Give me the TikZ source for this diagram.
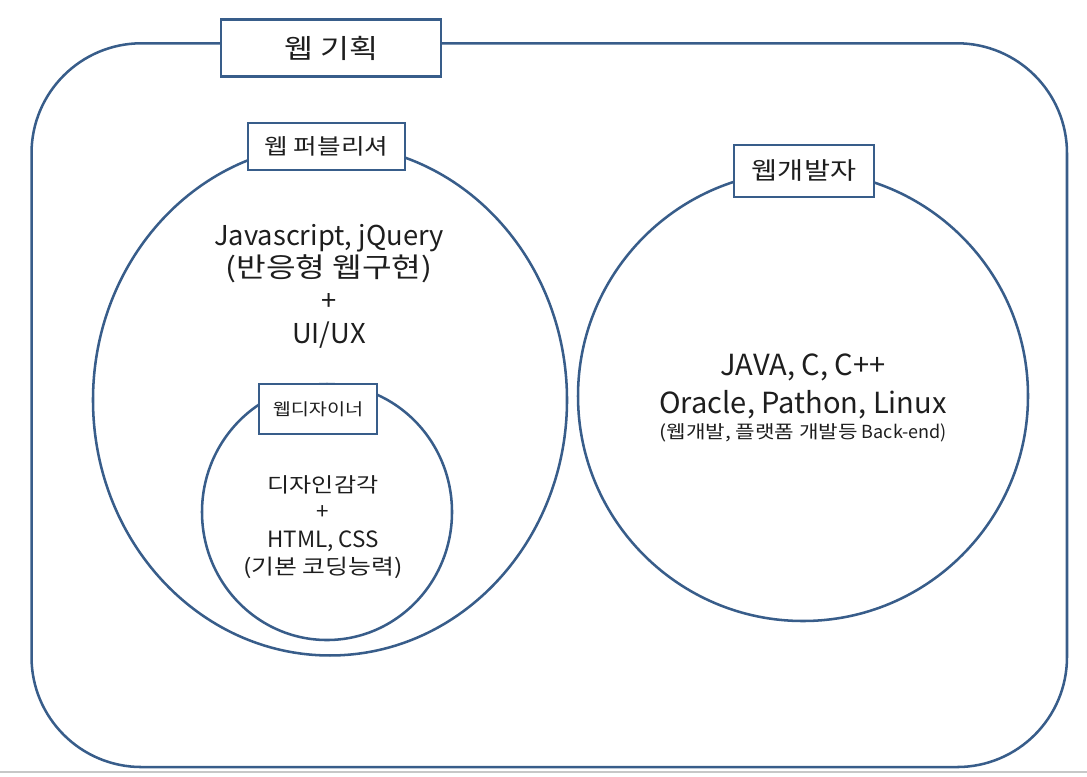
\documentclass[tikz,border=0pt]{standalone}
\usepackage{fontspec}
\setmainfont{Noto Sans CJK KR}
\newfontfamily\kr{Noto Sans CJK KR}[FakeStretch=1.18]
\usetikzlibrary{shapes.geometric}

\definecolor{frameblue}{RGB}{56,93,138}
\definecolor{textgray}{RGB}{30,30,30}

\begin{document}
\begin{tikzpicture}[x=0.75pt, y=-0.75pt,
    area/.style ={draw=frameblue, line width=1.9pt, inner sep=0pt},
    role/.style ={rectangle, draw=frameblue, line width=1.9pt, fill=white, inner sep=0pt, text=textgray},
    skill/.style ={align=center, text=textgray, inner sep=0pt}]
   \useasboundingbox (0,0) rectangle (1087,776);
   \draw[black!22, line width=1.5pt] (0,772) -- (1087,772);

   % areas
   \node[area, rectangle, rounded corners=82.5pt, minimum width=776.6pt, minimum height=542.8pt] (plan) at (549.25,405.15) {};
   \node[area, ellipse, minimum width=355.5pt, minimum height=383.2pt] (publish) at (330,400) {};
   \node[area, ellipse, minimum width=187.5pt, minimum height=192pt] (design) at (327,512) {};
   \node[area, ellipse, minimum width=337.5pt, minimum height=337.5pt] (develop) at (803,396) {};

   % role boxes
   \node[role, minimum width=165pt, minimum height=42.75pt, font=\kr\fontsize{20}{24}\selectfont] (plantag) at (331,48) {웹 기획};
   \node[role, minimum width=117.75pt, minimum height=35.25pt, font=\kr\fontsize{16.3}{19}\selectfont] (publishtag) at (326.5,146.5) {웹 퍼블리셔};
   \node[role, minimum width=88.5pt, minimum height=37.5pt, font=\kr\fontsize{12.5}{15}\selectfont] (designtag) at (318,409) {웹디자이너};
   \node[role, minimum width=105pt, minimum height=39pt, font=\kr\fontsize{18}{22}\selectfont] (developtag) at (804,171) {웹개발자};

   % skills
   \node[skill, font=\fontsize{20.5}{24.5}\selectfont] (publishtext) at (329,286) {Javascript, jQuery\\{\kr(반응형 웹구현)}\\+\\UI/UX};
   \node[skill, font=\fontsize{16.8}{20.5}\selectfont] (designtext) at (323,527) {{\kr\fontsize{15.3}{20.5}\selectfont 디자인감각}\\+\\HTML, CSS\\{\kr\fontsize{15.8}{20.5}\selectfont(기본 코딩능력)}};
   \node[skill, font=\fontsize{21.8}{28.5}\selectfont] (developtext) at (803,386) {JAVA, C, C++\\Oracle, Pathon, Linux};
   \node[skill, font=\fontsize{13.5}{16}\selectfont] (developnote) at (803,433) {{\kr(웹개발, 플랫폼 개발등} Back-end)};
 \end{tikzpicture}
\end{document}
